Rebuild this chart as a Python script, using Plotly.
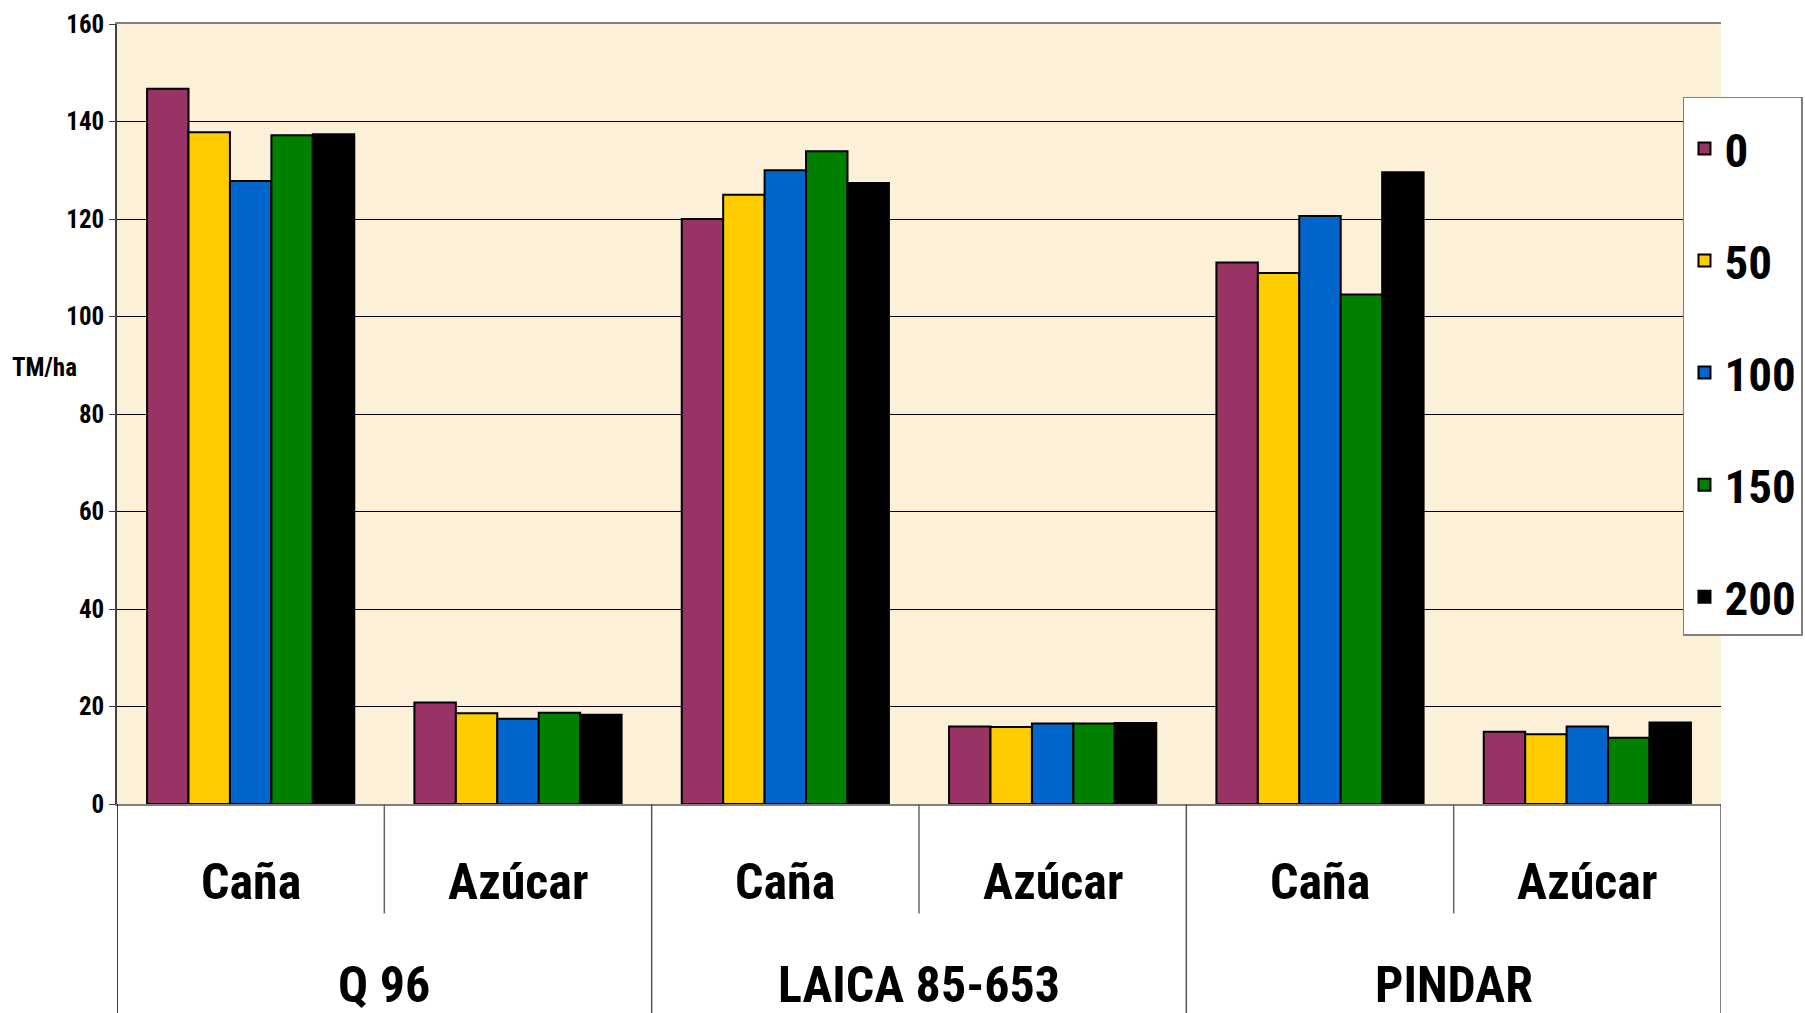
import plotly.graph_objects as go

# Varieties and product within each variety
groups = ["Q 96", "LAICA 85-653", "PINDAR"]
products = ["Caña", "Azúcar"]

# Nitrogen doses (legend) and their colours
doses = ["0", "50", "100", "150", "200"]
colors = ["#993366", "#FFCC00", "#0066CC", "#008000", "#000000"]

# Yield (TM/ha) per dose, in the order Q96 Caña, Q96 Azúcar, LAICA Caña, LAICA Azúcar, PINDAR Caña, PINDAR Azúcar
dose_0 = [146.7, 20.8, 120.0, 15.9, 111.1, 14.8]
dose_50 = [137.8, 18.6, 125.0, 15.8, 108.9, 14.3]
dose_100 = [127.8, 17.5, 130.0, 16.5, 120.6, 15.9]
dose_150 = [137.2, 18.7, 133.9, 16.5, 104.5, 13.6]
dose_200 = [137.4, 18.3, 127.4, 16.6, 129.6, 16.7]
series = [dose_0, dose_50, dose_100, dose_150, dose_200]

FONT = "Liberation Sans Narrow, Arial Narrow, Roboto Condensed, DejaVu Sans Condensed, sans-serif"

n_cat = len(groups) * len(products)
xpos = list(range(n_cat))

fig = go.Figure()
for name, col, vals in zip(doses, colors, series):
    fig.add_trace(go.Bar(
        x=xpos, y=vals, name=name, legendgroup=name,
        marker=dict(color=col, line=dict(color="#000000", width=2)),
    ))

annotations = []
shapes = []

# Product labels under each cluster
for i in xpos:
    annotations.append(dict(
        x=i, y=-0.1006, xref="x", yref="paper", text=products[i % 2],
        showarrow=False, yanchor="middle", xanchor="center",
        font=dict(family=FONT, size=50, color="#000000", weight="bold"),
    ))
# Variety labels
for g, name in enumerate(groups):
    annotations.append(dict(
        x=2 * g + 0.5, y=-0.2315, xref="x", yref="paper", text=name,
        showarrow=False, yanchor="middle", xanchor="center",
        font=dict(family=FONT, size=50, color="#000000", weight="bold"),
    ))
# Y axis title
annotations.append(dict(
    x=-0.045, y=0.56, xref="paper", yref="paper", text="TM/ha",
    showarrow=False, xanchor="center", yanchor="middle",
    font=dict(family=FONT, size=25, color="#000000", weight="bold"),
))

# Dividers in the category area
for b in [-0.5, 1.5, 3.5, 5.5]:
    shapes.append(dict(type="line", xref="x", yref="paper", x0=b, x1=b, y0=0, y1=-0.3,
                       line=dict(color="#000000" if b == -0.5 else "#555555", width=1.5)))
for b in [0.5, 2.5, 4.5]:
    shapes.append(dict(type="line", xref="x", yref="paper", x0=b, x1=b, y0=0, y1=-0.1404,
                       line=dict(color="#666666", width=1.5)))

fig.update_layout(
    width=1805, height=1013,
    margin=dict(l=117, r=84, t=24, b=209, pad=0, autoexpand=False),
    paper_bgcolor="#FFFFFF",
    plot_bgcolor="#FDF0D9",
    barmode="group",
    bargap=0.225,
    bargroupgap=0,
    showlegend=True,
    legend=dict(
        x=0.9763, y=0.9066, xanchor="left", yanchor="top",
        bgcolor="#FFFFFF", bordercolor="#808080", borderwidth=1.5,
        font=dict(family=FONT, size=47, color="#000000", weight="bold"),
        tracegroupgap=48, traceorder="grouped",
        itemwidth=30,
        title=dict(text=" ", font=dict(size=10)),
    ),
    xaxis=dict(
        range=[-0.5, n_cat - 0.5], showticklabels=False, showgrid=False,
        zeroline=False, showline=True, linecolor="#808080", linewidth=1.5,
        mirror=True, ticks="",
    ),
    yaxis=dict(
        range=[0, 160], dtick=20, showgrid=True, gridcolor="#000000", gridwidth=1,
        zeroline=False, showline=True, linecolor="#404040", linewidth=1.5,
        ticks="outside", ticklen=6, tickcolor="#404040",
        tickfont=dict(family=FONT, size=25, color="#000000", weight="bold"),
    ),
    annotations=annotations,
    shapes=shapes,
)

fig.write_html("out.html")
